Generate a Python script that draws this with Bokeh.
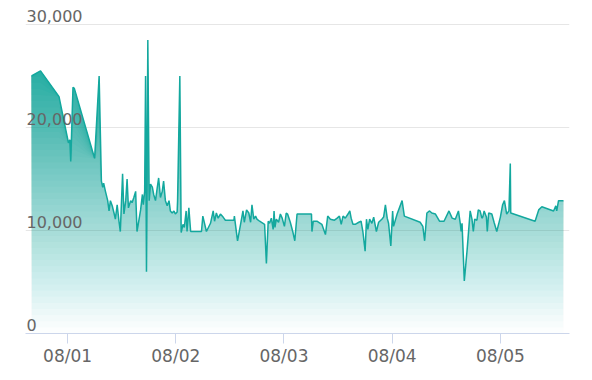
import numpy as np
import pandas as pd
from bokeh.plotting import figure
from bokeh.models import (Range1d, DaysTicker, DatetimeTickFormatter, Grid,
                          FixedTicker, ColumnDataSource)
from bokeh.core.properties import value
from bokeh.embed import file_html
from bokeh.resources import INLINE

# ---- data: hours after 07/31 00:00, and values ----
hours = [16.0, 18.0, 22.1, 24.2, 24.5, 24.7, 25.2, 25.5, 30.0, 31.0,
         31.5, 31.8, 32.0, 32.4, 32.9, 33.2, 33.5, 33.9, 34.3, 34.6,
         35.0, 35.4, 35.7, 36.2, 36.5, 36.9, 37.2, 37.5, 38.0, 38.3,
         38.7, 39.1, 39.4, 40.2, 40.6, 40.8, 41.1, 41.3, 41.5, 41.8,
         42.1, 42.4, 42.8, 43.1, 43.5, 43.9, 44.2, 44.6, 45.0, 45.3,
         45.7, 46.1, 46.5, 46.8, 47.2, 47.6, 47.9, 48.3, 48.4, 48.9,
         49.2, 49.6, 49.9, 50.3, 50.5, 50.9, 51.3, 53.7, 54.0, 54.8,
         55.7, 56.3, 56.6, 57.0, 57.4, 57.9, 58.5, 59.0, 60.9, 61.0,
         61.7, 62.5, 62.9, 63.2, 63.7, 64.2, 64.6, 64.9, 65.3, 65.7,
         66.0, 66.6, 67.7, 68.1, 68.5, 68.8, 69.2, 69.6, 69.8, 70.0,
         70.3, 70.8, 71.2, 71.6, 72.1, 72.5, 72.8, 73.4, 74.0, 74.4,
         74.9, 78.1, 78.2, 78.5, 79.3, 80.4, 81.2, 81.7, 82.3, 83.2,
         83.8, 84.3, 84.7, 85.1, 85.6, 86.2, 86.6, 86.9, 87.3, 87.8,
         88.6, 89.1, 89.5, 90.0, 90.3, 90.6, 91.0, 91.5, 91.9, 92.5,
         93.0, 93.7, 94.1, 94.5, 94.9, 95.2, 95.7, 96.1, 96.3, 97.1,
         98.2, 98.7, 102.2, 102.8, 103.2, 103.7, 104.3, 104.8, 105.6, 106.5,
         107.5, 108.6, 109.3, 110.0, 110.7, 111.1, 111.3, 111.5, 112.0, 112.6,
         113.3, 113.7, 114.0, 114.3, 114.8, 115.1, 115.5, 115.9, 116.1, 116.4,
         116.9, 117.1, 117.4, 118.1, 118.6, 119.2, 120.0, 120.5, 120.9, 121.4,
         121.9, 122.2, 122.3, 127.7, 128.5, 129.2, 131.8, 132.3, 132.5, 132.9,
         134.0]
values = [25000, 25500, 23000, 18500, 18800, 16700, 23900, 23800, 17000, 25000,
          14800, 14200, 14600, 13800, 12900, 11900, 12900, 12400, 11700, 11100,
          12500, 10900, 9900, 15500, 11600, 12900, 15000, 12200, 12900, 12700,
          13200, 13800, 9900, 12000, 13500, 12500, 13800, 25000, 6000, 28500,
          12900, 14500, 14200, 13500, 12900, 14200, 15100, 13200, 13800, 14800,
          12900, 12400, 12900, 11900, 11700, 11900, 11600, 11800, 12900, 25000,
          9800, 10600, 10300, 11900, 9900, 12200, 9900, 9900, 11400, 9900,
          10700, 11900, 10900, 11700, 11200, 11600, 11300, 11000, 11000, 11400,
          9000, 10900, 11900, 10800, 12000, 11700, 10800, 12500, 11100, 11400,
          11100, 10900, 10600, 6800, 10900, 10700, 11200, 10100, 11900, 10300,
          11100, 10800, 11600, 11200, 10400, 11700, 11600, 10800, 9800, 9000,
          11600, 11600, 9900, 10900, 10900, 10600, 9600, 11400, 11100, 11000,
          11200, 11400, 10600, 11400, 11200, 11600, 11900, 11200, 10600, 10600,
          10800, 10900, 9900, 8000, 11100, 10100, 11100, 10700, 11300, 9900,
          10800, 11100, 11300, 12500, 11200, 10700, 8500, 11900, 10400, 11600,
          12900, 11400, 10800, 10400, 9000, 11700, 11900, 11700, 11600, 10900,
          10900, 11900, 11200, 11100, 11900, 10700, 9900, 10700, 5100, 8000,
          11900, 11100, 9900, 11100, 11000, 12000, 11900, 11200, 11300, 11900,
          11300, 9900, 11700, 11600, 10800, 9900, 11300, 12500, 12900, 11600,
          11900, 16500, 11700, 10900, 12000, 12300, 11900, 12400, 11900, 12900,
          12900]
y_ticks = [0, 10000, 20000, 30000]
y_tick_labels = ["0", "10,000", "20,000", "30,000"]

base = pd.Timestamp("2024-07-31")
t = base + pd.to_timedelta(np.array(hours), unit="h")
v = np.array(values, dtype=float)

LINE = "#13a89e"
FONT = "DejaVu Sans"

span = t.max() - t.min()
pad = span * 0.0113

# frame: 30,000 sits 20px below the frame top so its label fits inside
Y_MAX = y_ticks[-1]
y_end = Y_MAX * 329.0 / 309.0

p = figure(width=584, height=372, output_backend="svg", toolbar_location=None,
           x_axis_type="datetime", y_axis_location=None,
           x_range=Range1d(t.min() - pad, t.max() + pad),
           y_range=Range1d(0, y_end),
           min_border_left=25, min_border_right=15,
           min_border_top=4, min_border_bottom=39)
p.outline_line_color = None
for g in p.grid:
    g.visible = False
p.background_fill_color = "white"
p.border_fill_color = "white"

grid = Grid(dimension=1, ticker=FixedTicker(ticks=y_ticks[1:]),
            grid_line_color="#e6e6e6", grid_line_width=1)
p.add_layout(grid)

# gradient fill: stacked translucent layers from level k up to the curve
vmax = v.max()
N = 48
prev = 0.0
for k in range(N):
    T = (k + 0.5) / N
    alpha = T if k == 0 else 1 - (1 - T) / (1 - prev)
    prev = T
    lvl = vmax * k / N
    p.varea(x=t, y1=np.minimum(v, lvl), y2=v, fill_color=LINE,
            fill_alpha=float(alpha))

p.line(t, v, line_color=LINE, line_width=1.5)

xa = p.xaxis[0]
xa.ticker = DaysTicker(days=list(range(1, 32)))
xa.formatter = DatetimeTickFormatter(days="%m/%d", months="%m/%d",
                                     hours="%m/%d")
xa.axis_line_color = "#ccd6eb"
xa.major_tick_line_color = "#ccd6eb"
xa.major_tick_out = 10
xa.major_tick_in = 0
xa.minor_tick_line_color = None
xa.major_label_text_font = FONT
xa.major_label_text_font_size = "17px"
xa.major_label_text_color = "#666666"
xa.major_label_standoff = 2

lab_src = ColumnDataSource(dict(x=[t.min() - pad] * len(y_ticks), y=y_ticks,
                                text=y_tick_labels))
p.text(x="x", y="y", text="text", source=lab_src, x_offset=1, y_offset=-9,
       text_font=value(FONT), text_font_size="16px", text_color="#666666",
       text_baseline="middle", text_align="left")

open("out.html", "w").write(file_html(p, INLINE))
